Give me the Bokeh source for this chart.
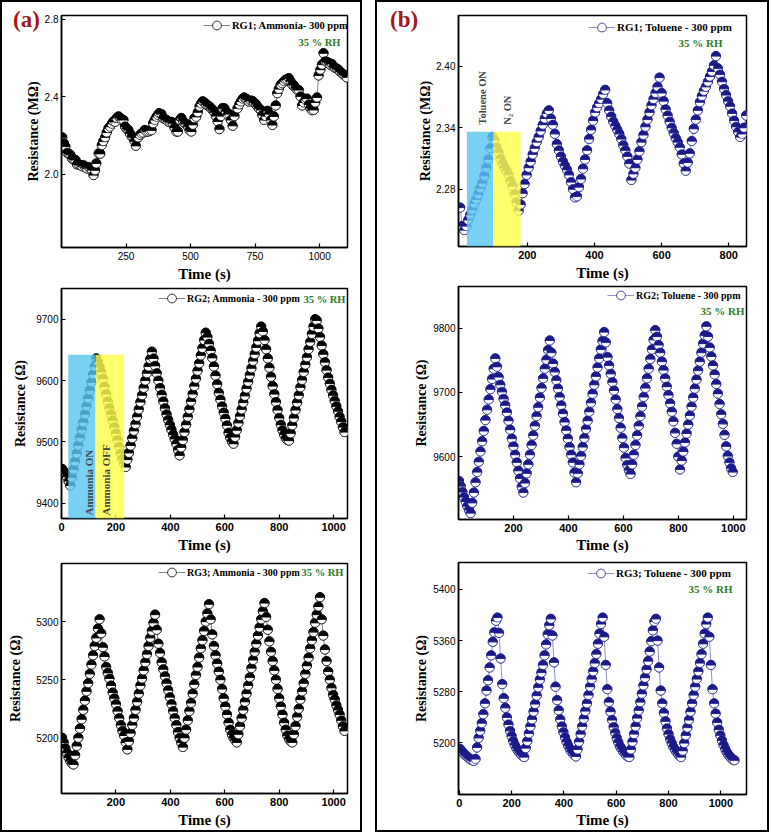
import math
from bokeh.plotting import figure
from bokeh.models import (Range1d, FixedTicker, Label, BoxAnnotation, Legend,
                          LegendItem, ColumnDataSource, Div)
from bokeh.layouts import column, row
from bokeh.embed import file_html
from bokeh.resources import INLINE

# ------------------------------------------------------------------ data
# (a) RG1 ammonia, resistance in MOhm (irregular readings)
A1_TIME = [3, 9, 15, 22, 28, 34, 41, 47, 54, 60,
           66, 73, 80, 86, 92, 99, 105, 111, 118, 124,
           130, 135, 144, 150, 156, 162, 169, 175, 182, 188,
           195, 201, 208, 214, 221, 227, 233, 240, 246, 252,
           259, 265, 272, 278, 283, 288, 297, 304, 310, 316,
           323, 329, 336, 342, 349, 355, 361, 368, 374, 378,
           387, 394, 400, 406, 413, 420, 426, 432, 438, 445,
           451, 458, 464, 470, 477, 483, 490, 496, 503, 509,
           515, 522, 528, 535, 541, 547, 554, 560, 567, 573,
           580, 586, 592, 598, 605, 612, 618, 624, 631, 637,
           644, 650, 656, 663, 670, 682, 689, 695, 702, 708,
           714, 720, 727, 733, 740, 746, 753, 759, 765, 772,
           778, 785, 791, 798, 804, 811, 817, 823, 830, 836,
           842, 849, 855, 862, 868, 874, 881, 887, 894, 900,
           907, 913, 919, 926, 932, 938, 945, 951, 958, 964,
           971, 977, 983, 990, 996, 1003, 1009, 1015, 1022, 1028,
           1035, 1041, 1047, 1054, 1060, 1067, 1073, 1079, 1086, 1092,
           1099, 1105]
A1_RES = [2.19, 2.16, 2.142, 2.11, 2.105, 2.10, 2.08, 2.075, 2.073, 2.05,
          2.05, 2.047, 2.04, 2.045, 2.035, 2.029, 2.036, 2.03, 2.021, 1.995,
          2.02, 2.055, 2.107, 2.105, 2.150, 2.17, 2.19, 2.215, 2.237, 2.245,
          2.26, 2.272, 2.27, 2.29, 2.298, 2.29, 2.281, 2.28, 2.246, 2.235,
          2.228, 2.21, 2.194, 2.19, 2.17, 2.146, 2.19, 2.202, 2.21, 2.215,
          2.228, 2.22, 2.220, 2.225, 2.227, 2.263, 2.28, 2.296, 2.305, 2.315,
          2.31, 2.289, 2.285, 2.28, 2.272, 2.268, 2.27, 2.263, 2.24, 2.220,
          2.22, 2.280, 2.29, 2.275, 2.263, 2.26, 2.245, 2.228, 2.22, 2.255,
          2.289, 2.296, 2.32, 2.350, 2.365, 2.376, 2.37, 2.36, 2.355, 2.35,
          2.34, 2.332, 2.32, 2.30, 2.272, 2.232, 2.30, 2.341, 2.34, 2.325,
          2.307, 2.31, 2.28, 2.25, 2.30, 2.34, 2.36, 2.375, 2.39, 2.396,
          2.39, 2.385, 2.375, 2.38, 2.378, 2.37, 2.362, 2.35, 2.34, 2.332,
          2.305, 2.280, 2.30, 2.327, 2.31, 2.28, 2.254, 2.298, 2.355, 2.418,
          2.44, 2.462, 2.47, 2.48, 2.488, 2.49, 2.496, 2.48, 2.462, 2.46,
          2.445, 2.436, 2.435, 2.402, 2.355, 2.37, 2.385, 2.39, 2.36, 2.341,
          2.33, 2.332, 2.37, 2.396, 2.51, 2.54, 2.566, 2.625, 2.583, 2.58,
          2.575, 2.566, 2.57, 2.555, 2.549, 2.545, 2.54, 2.53, 2.523, 2.515,
          2.51, 2.50]

# (a) RG2 ammonia, ohm, one reading every 6 s from t = 2 s
A2_START, A2_STEP = 2, 6
A2_RES = [9456, 9452, 9448, 9443, 9436, 9429,
          9442, 9455, 9468, 9481, 9494, 9507, 9520, 9532, 9545, 9558, 9571, 9584,
          9597, 9610, 9623, 9636,
          9630, 9622, 9614, 9603, 9590, 9578, 9566, 9555, 9545, 9535, 9524, 9514,
          9503, 9492, 9481, 9472, 9465, 9459,
          9471, 9482, 9494, 9506, 9518, 9529, 9541, 9553, 9565, 9576, 9588, 9600,
          9612, 9623, 9635, 9647,
          9636, 9624, 9612, 9600, 9588, 9577, 9566, 9555, 9545, 9536, 9528, 9520,
          9512, 9505, 9497, 9487, 9478,
          9491, 9503, 9516, 9528, 9541, 9553, 9566, 9578, 9591, 9603, 9616, 9628,
          9641, 9653, 9666, 9678,
          9671, 9660, 9649, 9637, 9623, 9608, 9594, 9580, 9569, 9558, 9548, 9538,
          9527, 9515, 9507, 9501, 9497,
          9508, 9519, 9531, 9542, 9553, 9564, 9575, 9587, 9598, 9609, 9620, 9632,
          9643, 9654, 9665, 9677, 9688,
          9680, 9666, 9651, 9636, 9621, 9606, 9591, 9578, 9565, 9552, 9539, 9528,
          9519, 9512, 9506, 9503, 9502,
          9514, 9527, 9539, 9552, 9564, 9576, 9589, 9601, 9614, 9626, 9638, 9651,
          9663, 9676, 9688, 9700,
          9698, 9685, 9671, 9657, 9643, 9630, 9617, 9605, 9595, 9585, 9576, 9567,
          9558, 9550, 9541, 9533, 9524, 9516]

# (a) RG3 ammonia, ohm, one reading every 6 s from t = 2 s
A3_START, A3_STEP = 2, 6
A3_RES = [5200, 5196, 5191, 5187, 5183, 5180, 5178, 5177,
          5185, 5193, 5200, 5208, 5216, 5224, 5232, 5240, 5247, 5255, 5263, 5271,
          5279, 5286, 5294, 5302,
          5290, 5278, 5270, 5261, 5256, 5251, 5245, 5239, 5234, 5229, 5223, 5217,
          5211, 5206, 5202, 5196, 5190,
          5197, 5204, 5211, 5217, 5224, 5231, 5238, 5245, 5251, 5258, 5265, 5272,
          5279, 5286, 5292, 5299, 5306,
          5293, 5281, 5273, 5265, 5259, 5253, 5247, 5241, 5235, 5229, 5223, 5217,
          5211, 5205, 5200, 5196, 5192,
          5200, 5207, 5215, 5223, 5230, 5238, 5246, 5254, 5261, 5269, 5277, 5284,
          5292, 5300, 5307, 5315,
          5302, 5289, 5279, 5271, 5264, 5257, 5250, 5242, 5234, 5227, 5220, 5213,
          5207, 5203, 5200, 5198, 5196,
          5203, 5210, 5217, 5224, 5231, 5238, 5245, 5252, 5260, 5267, 5274, 5281,
          5288, 5295, 5302, 5309, 5316,
          5304, 5293, 5283, 5274, 5266, 5258, 5250, 5242, 5234, 5227, 5220, 5213,
          5207, 5202, 5199, 5197, 5196,
          5203, 5210, 5218, 5225, 5233, 5240, 5247, 5255, 5262, 5269, 5277, 5284,
          5291, 5299, 5306, 5313, 5321,
          5302, 5288, 5276, 5266, 5257, 5250, 5243, 5237, 5233, 5228, 5224, 5220,
          5215, 5210, 5206]

# (b) RG1 toluene, MOhm, one reading every 6 s from t = 0 s
B1_START, B1_STEP = 0, 6
B1_RES = [2.262, 2.244, 2.240, 2.244, 2.250, 2.255, 2.260, 2.266, 2.270, 2.275, 2.281,
          2.286, 2.293, 2.301, 2.309, 2.320, 2.331,
          2.328, 2.321, 2.316, 2.310, 2.305, 2.301, 2.298, 2.294, 2.288, 2.283, 2.275,
          2.267, 2.259,
          2.265, 2.276, 2.285, 2.294, 2.301, 2.307, 2.314, 2.320, 2.326, 2.331, 2.337,
          2.343, 2.349, 2.354, 2.357,
          2.349, 2.343, 2.334, 2.324, 2.318, 2.312, 2.307, 2.303, 2.299, 2.294, 2.287,
          2.280, 2.272,
          2.273, 2.282, 2.290, 2.300, 2.309, 2.318, 2.329, 2.338, 2.347, 2.355, 2.360,
          2.364, 2.368, 2.373, 2.377,
          2.364, 2.357, 2.351, 2.346, 2.342, 2.338, 2.334, 2.329, 2.323, 2.318, 2.312,
          2.305, 2.289,
          2.295, 2.301, 2.309, 2.317, 2.326, 2.333, 2.341, 2.348, 2.355, 2.362, 2.368,
          2.374, 2.380, 2.389,
          2.374, 2.366, 2.358, 2.352, 2.346, 2.340, 2.335, 2.330, 2.326, 2.321, 2.314,
          2.305, 2.298,
          2.306, 2.315, 2.327, 2.339, 2.348, 2.357, 2.365, 2.371, 2.376, 2.380, 2.385,
          2.390, 2.395, 2.401, 2.410,
          2.398, 2.392, 2.385, 2.378, 2.372, 2.366, 2.361, 2.354, 2.347, 2.341, 2.336,
          2.331, 2.334, 2.340, 2.352]

# (b) RG2 toluene, ohm, one reading every 6 s from t = 2 s
B2_START, B2_STEP = 2, 6
B2_RES = [9562, 9554, 9545, 9537, 9530, 9523, 9517, 9512,
          9528, 9544, 9560, 9576, 9592, 9608, 9624, 9640, 9657, 9673, 9689, 9705,
          9721, 9737, 9753,
          9740, 9724, 9712, 9701, 9690, 9680, 9669, 9656, 9642, 9628, 9616, 9603,
          9591, 9578, 9566, 9553, 9544,
          9559, 9574, 9588, 9603, 9618, 9633, 9648, 9663, 9677, 9692, 9707, 9722,
          9737, 9751, 9766, 9781,
          9762, 9745, 9732, 9719, 9706, 9693, 9680, 9667, 9654, 9641, 9628, 9615,
          9603, 9591, 9575, 9560,
          9574, 9588, 9601, 9615, 9629, 9643, 9656, 9670, 9684, 9698, 9712, 9725,
          9739, 9753, 9767, 9780, 9794,
          9778, 9755, 9742, 9729, 9716, 9703, 9689, 9674, 9660, 9645, 9629, 9614,
          9598, 9587, 9579, 9573,
          9588, 9603, 9618, 9633, 9648, 9663, 9678, 9693, 9707, 9722, 9737, 9752,
          9767, 9782, 9797,
          9787, 9774, 9762, 9748, 9735, 9722, 9709, 9696, 9683, 9670, 9655, 9637,
          9620, 9600, 9580,
          9594, 9608, 9622, 9636, 9650, 9664, 9678, 9692, 9706, 9720, 9734, 9748,
          9762, 9776, 9789, 9803,
          9787, 9770, 9756, 9742, 9728, 9713, 9698, 9682, 9666, 9651, 9634, 9616,
          9601, 9591, 9582, 9576]

# (b) RG3 toluene, ohm, one reading every 6 s from t = 2 s
B3_START, B3_STEP = 2, 6
B3_RES = [5191, 5188, 5185, 5182, 5180, 5178, 5176, 5174, 5173, 5172, 5175,
          5193, 5208, 5219, 5231, 5245, 5262, 5282, 5298, 5318, 5337, 5358, 5373,
          5391, 5396,
          5372, 5332, 5292, 5270, 5255, 5240, 5229, 5219, 5211, 5203, 5197, 5192,
          5188, 5185, 5182, 5180, 5178,
          5192, 5203, 5215, 5226, 5237, 5249, 5261, 5274, 5287, 5299, 5310, 5322,
          5337, 5354, 5370, 5384, 5394,
          5368, 5326, 5288, 5267, 5251, 5237, 5226, 5217, 5209, 5202, 5196, 5191,
          5187, 5184, 5181, 5179,
          5190, 5202, 5214, 5226, 5238, 5250, 5262, 5275, 5288, 5300, 5312, 5325,
          5339, 5355, 5371, 5386, 5396,
          5366, 5322, 5284, 5264, 5249, 5236, 5225, 5216, 5208, 5201, 5195, 5191,
          5187, 5184, 5181, 5179, 5178,
          5190, 5202, 5214, 5226, 5239, 5251, 5264, 5277, 5290, 5302, 5315, 5328,
          5343, 5359, 5376, 5390, 5394,
          5360, 5318, 5282, 5262, 5247, 5234, 5223, 5214, 5206, 5200, 5194, 5190,
          5186, 5183, 5180, 5178,
          5188, 5200, 5212, 5224, 5236, 5249, 5262, 5275, 5288, 5300, 5312, 5325,
          5339, 5355, 5371, 5386, 5396,
          5366, 5322, 5284, 5262, 5246, 5232, 5221, 5212, 5204, 5197, 5191, 5186,
          5182, 5179, 5176, 5174, 5173]

# gas-exposure windows: (start s, end s, top of shaded box)
A2_ON = (25, 125, 9642)
A2_OFF = (125, 230, 9642)
B1_ON = (20, 98, 2.336)
B1_OFF = (98, 180, 2.336)

# axis ticks
A1_XTICKS, A1_YTICKS = [250, 500, 750, 1000], [2.0, 2.4, 2.8]
A2_XTICKS, A2_YTICKS = [0, 200, 400, 600, 800, 1000], [9400, 9500, 9600, 9700]
A3_XTICKS, A3_YTICKS = [200, 400, 600, 800, 1000], [5200, 5250, 5300]
B1_XTICKS, B1_YTICKS = [200, 400, 600, 800], [2.28, 2.34, 2.40]
B2_XTICKS, B2_YTICKS = [200, 400, 600, 800, 1000], [9600, 9700, 9800]
B3_XTICKS, B3_YTICKS = [0, 200, 400, 600, 800, 1000], [5200, 5280, 5360, 5440]
A1_YLABELS = {2.0: "2.0", 2.4: "2.4", 2.8: "2.8"}
B1_YLABELS = {2.28: "2.28", 2.34: "2.34", 2.40: "2.40"}
B3_YLABELS = {5440: "5400"}   # as printed in the original figure

# ------------------------------------------------------------------ style
BLACK, NAVY = "#000000", "#1a1a8a"
GREEN, DARKRED = "#2e7a22", "#a3161b"
SKY, YELLOW = "#5ac6ef", "#ffff4a"
SERIF, SANS = "Liberation Serif", "Liberation Sans"


def sampled(start, step, values):
    return [start + step * i for i in range(len(values))]


def make_fig(w, h, l, r, t, b, xr, yr):
    p = figure(width=w, height=h, x_range=Range1d(*xr), y_range=Range1d(*yr),
               output_backend="svg", toolbar_location=None,
               min_border_left=l, min_border_right=r,
               min_border_top=t, min_border_bottom=b)
    p.grid.visible = False
    p.outline_line_color = "black"
    p.outline_line_width = 1.5
    p.background_fill_color = "white"
    p.border_fill_color = "white"
    return p


def style_axes(p, xticks, yticks, ylabel, ylab_off, xlab_off,
               xbold=True, ylabels=None):
    xa, ya = p.xaxis[0], p.yaxis[0]
    for ax in (xa, ya):
        ax.axis_line_width = 1.5
        ax.major_tick_in = 4
        ax.major_tick_out = 0
        ax.minor_tick_in = 0
        ax.minor_tick_out = 0
        ax.major_tick_line_width = 1.2
        ax.axis_label_text_font = SERIF
        ax.axis_label_text_font_style = "bold"
        ax.axis_label_text_color = "black"
        ax.major_label_text_font = SANS
        ax.major_label_text_color = "black"
    xa.major_label_standoff = 4
    ya.major_label_standoff = 3
    xa.ticker = FixedTicker(ticks=xticks)
    ya.ticker = FixedTicker(ticks=yticks)
    xa.axis_label = "Time (s)"
    ya.axis_label = ylabel
    xa.axis_label_text_font_size = "15px"
    ya.axis_label_text_font_size = "14px"
    xa.axis_label_standoff = xlab_off
    ya.axis_label_standoff = ylab_off
    xa.major_label_text_font_size = "11px" if xbold else "10px"
    xa.major_label_text_font_style = "bold" if xbold else "normal"
    ya.major_label_text_font_size = "10px"
    if ylabels:
        ya.major_label_overrides = ylabels


def draw_series(p, times, values, color):
    ln = p.line(times, values, line_color=color, line_width=0.7, line_alpha=0.7)
    mk = p.scatter(times, values, marker="circle", size=9.2, fill_color="white",
                   line_color=color, line_width=0.8)
    xs, ys, a0, a1, fc = [], [], [], [], []
    for t, v in zip(times, values):
        xs += [t, t]
        ys += [v, v]
        a0 += [math.pi, 0.0]
        a1 += [2 * math.pi, math.pi]
        fc += ["white", color]
    src = ColumnDataSource(dict(x=xs, y=ys, a0=a0, a1=a1, fc=fc))
    p.wedge("x", "y", source=src, radius=4.6, radius_units="screen",
            start_angle="a0", end_angle="a1", fill_color="fc",
            line_color=color, line_width=0.7)
    return ln, mk


def put(p, frame, text, X, Y, size, color="black", align="left",
        baseline="middle", angle=0.0):
    fx0, fy0, fx1, fy1 = frame
    p.add_layout(Label(x=X - fx0, y=fy1 - Y, x_units="screen",
                       y_units="screen", text=text, text_font=SERIF,
                       text_font_style="bold", text_font_size=f"{size}px",
                       text_color=color, text_align=align,
                       text_baseline=baseline, angle=angle))


def add_legend(p, frame, label, X, Ymid, rends, size):
    fx0, fy0, fx1, fy1 = frame
    leg = Legend(items=[LegendItem(label=label, renderers=list(rends))],
                 location=(X - fx0, fy1 - (Ymid + 11)),
                 label_text_font=SERIF, label_text_font_style="bold",
                 label_text_font_size=f"{size}px", label_text_color="black",
                 glyph_width=27, glyph_height=22, label_height=10,
                 label_standoff=2, padding=0, margin=0, spacing=0,
                 border_line_color=None, background_fill_alpha=0)
    p.add_layout(leg)


def shade(p, win, color):
    left, right, top = win
    p.add_layout(BoxAnnotation(left=left, right=right, top=top,
                               fill_color=color, fill_alpha=0.82,
                               line_color=None))


def vtext(p, text, x, y, y_units, size):
    p.add_layout(Label(x=x, y=y, x_units="data", y_units=y_units, text=text,
                       angle=math.pi / 2, text_font=SERIF,
                       text_font_style="bold", text_font_size=f"{size}px",
                       text_align="left", text_baseline="middle"))


# frames (pixel boxes of each plotting area on the page)
FA1, FA2, FA3 = (61, 15, 349, 247), (60, 288, 347, 518), (58, 563, 347, 794)
FB1, FB2, FB3 = (458, 15, 746, 247), (458, 286, 746, 519), (458, 562, 746, 794)

# ---- (a) RG1
pa1 = make_fig(358, 283, 59, 11, 13, 38, (0, 1108), (1.62, 2.82))
style_axes(pa1, A1_XTICKS, A1_YTICKS, "Resistance (MΩ)", 1, 3,
           xbold=False, ylabels=A1_YLABELS)
r = draw_series(pa1, A1_TIME, A1_RES, BLACK)
add_legend(pa1, FA1, "RG1; Ammonia- 300 ppm", 203, 25, r, 10.5)
put(pa1, FA1, "35 % RH", 298, 42, 10.5, GREEN)

# ---- (a) RG2
pa2 = make_fig(358, 273, 58, 13, 3, 40, (0, 1051), (9375, 9750))
style_axes(pa2, A2_XTICKS, A2_YTICKS, "Resistance (Ω)", 5, 3)
r = draw_series(pa2, sampled(A2_START, A2_STEP, A2_RES), A2_RES, BLACK)
shade(pa2, A2_ON, SKY)
shade(pa2, A2_OFF, YELLOW)
vtext(pa2, "Ammonia ON", 100, 3, "screen", 11)
vtext(pa2, "Ammonia OFF", 165, 3, "screen", 11)
add_legend(pa2, FA2, "RG2; Ammonia - 300 ppm", 157, 298, r, 10)
put(pa2, FA2, "35 % RH", 302, 299, 10.5, GREEN)

# ---- (a) RG3
pa3 = make_fig(358, 272, 56, 13, 5, 36, (0, 1051), (5152, 5350))
style_axes(pa3, A3_XTICKS, A3_YTICKS, "Resistance (Ω)", 10, 3)
r = draw_series(pa3, sampled(A3_START, A3_STEP, A3_RES), A3_RES, BLACK)
add_legend(pa3, FA3, "RG3; Ammonia - 300 ppm", 155, 573, r, 10)
put(pa3, FA3, "35 % RH", 298, 573, 10.5, GREEN)

# ---- (b) RG1
pb1 = make_fig(390, 281, 81, 21, 13, 36, (-5, 853), (2.224, 2.4496))
style_axes(pb1, B1_XTICKS, B1_YTICKS, "Resistance (MΩ)", 0, 3,
           ylabels=B1_YLABELS)
r = draw_series(pb1, sampled(B1_START, B1_STEP, B1_RES), B1_RES, NAVY)
shade(pb1, B1_ON, SKY)
shade(pb1, B1_OFF, YELLOW)
vtext(pb1, "Toluene ON", 66, 2.343, "data", 10.5)
vtext(pb1, "N₂ ON", 141, 2.343, "data", 10.5)
add_legend(pb1, FB1, "RG1; Toluene - 300 ppm", 588, 28, r, 11)
put(pb1, FB1, "35 % RH", 678, 43, 11, GREEN)

# ---- (b) RG2
pb2 = make_fig(390, 275, 81, 21, 3, 39, (0, 1048), (9502, 9865))
style_axes(pb2, B2_XTICKS, B2_YTICKS, "Resistance (Ω)", 1, 2)
r = draw_series(pb2, sampled(B2_START, B2_STEP, B2_RES), B2_RES, NAVY)
add_legend(pb2, FB2, "RG2; Toluene - 300 ppm", 607, 295, r, 10)
put(pb2, FB2, "35 % RH", 700, 310, 11, GREEN)

# ---- (b) RG3
pb3 = make_fig(390, 272, 81, 21, 4, 36, (-3, 1098), (5119.5, 5482))
style_axes(pb3, B3_XTICKS, B3_YTICKS, "Resistance (Ω)", 1, 2,
           ylabels=B3_YLABELS)
r = draw_series(pb3, sampled(B3_START, B3_STEP, B3_RES), B3_RES, NAVY)
add_legend(pb3, FB3, "RG3; Toluene - 300 ppm", 587, 573, r, 11)
put(pb3, FB3, "35 % RH", 688, 588, 11, GREEN)


def panel_tag(text, left_px):
    return Div(text=text, width=30, height=30,
               styles={"position": "absolute", "left": f"{left_px}px",
                       "top": "2px", "font-family": SERIF,
                       "font-weight": "bold", "font-size": "23px",
                       "color": DARKRED, "z-index": "10",
                       "line-height": "26px"})


left = column(pa1, pa2, pa3, spacing=0, styles={"border": "2px solid black"})
right = column(pb1, pb2, pb3, spacing=0, styles={"border": "2px solid black"})
page = row(panel_tag("(a)", 8), panel_tag("(b)", 385), left, right, spacing=13)

open("out.html", "w").write(file_html(page, INLINE))
